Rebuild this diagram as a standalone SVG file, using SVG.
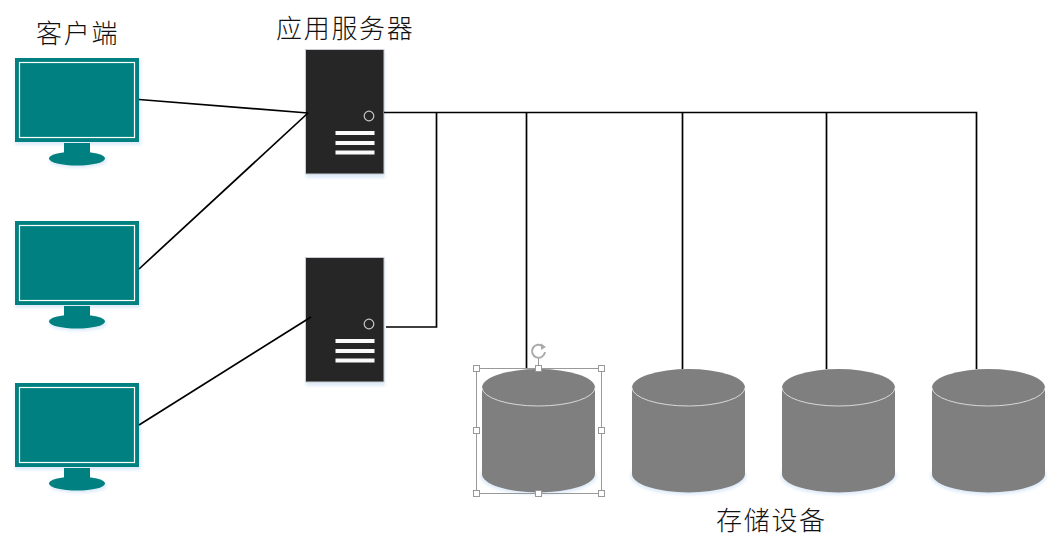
<svg xmlns="http://www.w3.org/2000/svg" width="1058" height="544" viewBox="0 0 1058 544">
<style>
.lbl{font-family:"Noto Sans CJK SC","Noto Sans CJK JP",sans-serif;font-size:26px;font-weight:300;fill:#111;letter-spacing:1.7px}
.wire{fill:none;stroke:#000;stroke-width:1.7}
.teal{fill:#008080}
.scr{fill:none;stroke:#fff;stroke-width:1.2}
.glow{fill:#c9dff5;opacity:.6;filter:url(#soft)}
.box{fill:#262626;stroke:#c8ccd0;stroke-width:1}
.bar{fill:#fafafa}
.led{fill:none;stroke:#c8c8c8;stroke-width:1.2}
.cyl{fill:#7f7f7f}
.rim{fill:none;stroke:#d9d9d9;stroke-width:1}
.sel{fill:none;stroke:#999;stroke-width:1}
.hdl{fill:#fff;stroke:#999;stroke-width:1}
</style>
<defs>
<filter id="soft" x="-20%" y="-20%" width="140%" height="140%"><feGaussianBlur stdDeviation="1.5"/></filter>
<g id="monitor">
<rect class="glow" x="15" y="60" width="126" height="85"/>
<ellipse class="glow" cx="78" cy="161" rx="29" ry="7"/>
<rect class="teal" x="15" y="58" width="124" height="84"/>
<rect class="scr" x="19.500" y="62.500" width="115" height="75"/>
<rect class="teal" x="64" y="143" width="26" height="11"/>
<ellipse class="teal" cx="77" cy="158.500" rx="28" ry="7"/>
</g>
<g id="server">
<rect class="glow" x="306" y="52" width="79" height="126"/>
<rect class="box" x="305.500" y="49.500" width="78.500" height="124.500"/>
<circle class="led" cx="369" cy="116" r="4.800"/>
<rect class="bar" x="335.500" y="131" width="39" height="4"/>
<rect class="bar" x="335.500" y="141" width="39" height="4"/>
<rect class="bar" x="335.500" y="150.500" width="39" height="4"/>
</g>
<g id="cylinder">
<ellipse class="glow" cx="538.500" cy="476" rx="58" ry="19"/>
<path class="cyl" d="M482 387.500A56.500 18.500 0 0 1 595 387.500V474A56.500 18.500 0 0 1 482 474Z"/>
<path class="rim" d="M482 387.500A56.500 18.500 0 0 0 595 387.500"/>
</g>
</defs>
<g id="client-1"><use href="#monitor"/></g>
<g id="client-2"><use href="#monitor" y="163"/></g>
<g id="client-3"><use href="#monitor" y="325"/></g>
<g id="server-1"><use href="#server"/></g>
<g id="server-2"><use href="#server" y="208"/></g>
<g id="storage-1"><use href="#cylinder"/></g>
<g id="storage-2"><use href="#cylinder" x="150"/></g>
<g id="storage-3"><use href="#cylinder" x="300"/></g>
<g id="storage-4"><use href="#cylinder" x="450"/></g>
<g id="connectors">
<path class="wire" d="M139 99.500L308 113"/>
<path class="wire" d="M139 269L308 113"/>
<path class="wire" d="M139 425L311 317"/>
<path class="wire" d="M384 112.500H976.500V369"/>
<path class="wire" d="M386 327H436.500V112.500"/>
<path class="wire" d="M526.500 112.500V369"/>
<path class="wire" d="M682.500 112.500V369"/>
<path class="wire" d="M826.500 112.500V369"/>
</g>
<g id="selection">
<rect class="sel" x="476.500" y="368.500" width="125" height="125"/>
<path class="sel" d="M538.500 368V357"/>
<path d="M543 346.500A6.500 6.500 0 1 0 545 352" fill="none" stroke="#aaa" stroke-width="2"/>
<path d="M541 343.500L546 347L541 350Z" fill="#aaa"/>
<rect class="hdl" x="473.500" y="365.500" width="6" height="6"/>
<rect class="hdl" x="535.500" y="365.500" width="6" height="6"/>
<rect class="hdl" x="598.500" y="365.500" width="6" height="6"/>
<rect class="hdl" x="473.500" y="427.500" width="6" height="6"/>
<rect class="hdl" x="598.500" y="427.500" width="6" height="6"/>
<rect class="hdl" x="473.500" y="490.500" width="6" height="6"/>
<rect class="hdl" x="535.500" y="490.500" width="6" height="6"/>
<rect class="hdl" x="598.500" y="490.500" width="6" height="6"/>
</g>
<g id="labels">
<text class="lbl" x="36" y="43">客户端</text>
<text class="lbl" x="276" y="38">应用服务器</text>
<text class="lbl" x="716" y="530">存储设备</text>
</g>
</svg>
